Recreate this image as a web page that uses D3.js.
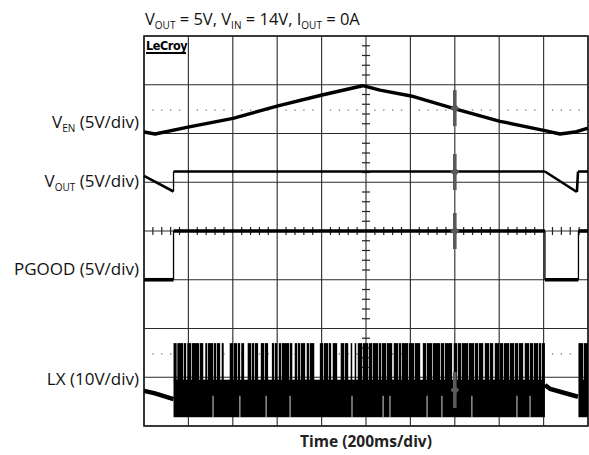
<!DOCTYPE html>
<html><head><meta charset="utf-8">
<script src="https://cdn.jsdelivr.net/npm/d3@7"></script>
<style>body{margin:0;background:#fff}</style></head>
<body>
<svg id="c" width="589" height="455"></svg>
<script>
// ---------- data (time in ms, 200 ms/div; amplitude in screen divisions, 0..8) ----------
const timeDomain = [0, 2000];
const divDomain = [0, 8];
const xGridTicks = [0,200,400,600,800,1000,1200,1400,1600,1800,2000];
const yGridTicks = [0,1,2,3,4,5,6,7,8];
const channelNames = ["EN", "OUT", "PGOOD", "LX"];

const venTrace = [[0,6.03],[50,5.99],[198,6.13],[401,6.31],[599,6.56],[802,6.79],[985,6.98],
  [1063,6.89],[1203,6.77],[1405,6.50],[1604,6.25],[1806,6.06],[1874,5.99],[1941,6.03],[2000,6.11]];
const voutTrace = [[0,5.13],[133,4.81],[133,5.22],[1806,5.22],[1950,4.80],[1955,5.22],[2000,5.22]];
const pgoodTrace = [[0,3.0],[133,3.0],[133,4.0],[1806,4.0],[1806,3.0],[1957,3.0],[1957,4.0],[2000,4.0]];
const lxIdleBefore = [[0,0.72],[50,0.67],[133,0.55]];
const lxIdleAfter = [[1806,0.84],[1830,0.76],[1955,0.60]];
const lxSwitching = [[133,1806],[1957,2000]];
const lxLevels = {spikeTop:1.70, bandTop:0.95, bandBottom:0.18};
const lxGaps = [[147,150],[177,180],[190,195],[212,215],[248,251],[267,276],[284,287],[311,314],
  [325,328],[343,350],[359,386],[401,404],[419,422],[433,438],[451,467],[482,485],[496,499],
  [514,526],[541,544],[559,576],[586,589],[600,607],[618,621],[654,657],[668,679],[690,693],
  [703,706],[726,733],[744,747],[767,792],[807,810],[829,832],[843,850],[870,886],[901,904],
  [920,931],[938,949],[956,963],[982,985],[1009,1012],[1027,1030],[1055,1058],[1068,1071],
  [1091,1094],[1118,1125],[1145,1148],[1158,1161],[1190,1193],[1217,1220],[1244,1256],
  [1271,1274],[1298,1301],[1334,1337],[1352,1355],[1388,1395],[1410,1413],[1428,1431],
  [1460,1463],[1487,1490],[1505,1508],[1528,1535],[1555,1558],[1573,1580],[1600,1603],
  [1618,1621],[1645,1648],[1667,1670],[1685,1688],[1708,1715],[1735,1738],[1753,1756],
  [1775,1778],[1789,1792],[1978,1981]];
const lxLowGaps = [311,432,550,658,937,1077,1108,1275,1342,1477,1680,1739];
const dottedLevels = [6.48, 1.48];
const cursorTime = 1400;
const cursorLevels = [6.52, 5.21, 4.0, 0.74];

// ---------- drawing ----------
const svg = d3.select("#c");
const x = d3.scaleLinear().domain(timeDomain).range([144, 588]);
const y = d3.scaleLinear().domain(divDomain).range([426, 36]);
const FONT = "'Open Sans', 'Noto Sans', sans-serif";

// dotted reference lines
const subStep = 40; // ms per minor subdivision (1/5 div)
dottedLevels.forEach(lv => {
  const pts = d3.range(timeDomain[0], timeDomain[1] + 1, subStep).filter(t => t % 200 !== 0);
  svg.append("g").selectAll("rect").data(pts).join("rect")
    .attr("x", d => x(d) - 0.6).attr("y", y(lv) - 0.6).attr("width", 1.3).attr("height", 1.3)
    .attr("fill", "#777");
});

// grid
const grid = svg.append("g");
grid.selectAll("line.v").data(xGridTicks).join("line")
  .attr("x1", d => x(d)).attr("x2", d => x(d)).attr("y1", y(8)).attr("y2", y(0))
  .attr("stroke", "#3a3a3a").attr("stroke-width", 1.2);
grid.selectAll("line.h").data(yGridTicks).join("line")
  .attr("y1", d => y(d)).attr("y2", d => y(d)).attr("x1", x(0)).attr("x2", x(2000))
  .attr("stroke", "#2a2a2a").attr("stroke-width", 1.2);
grid.append("rect").attr("x", x(0)).attr("y", y(8)).attr("width", x(2000) - x(0)).attr("height", y(0) - y(8))
  .attr("fill", "none").attr("stroke", "#222").attr("stroke-width", 1.6);

// minor ticks on centre axes
const cx = x(1000), cy = y(4);
const vMinor = d3.range(0, 8.01, 0.2).filter(v => Math.abs(v - Math.round(v)) > 0.01);
grid.selectAll("line.vm").data(vMinor).join("line")
  .attr("x1", cx - 4).attr("x2", cx + 4).attr("y1", d => y(d)).attr("y2", d => y(d))
  .attr("stroke", "#222").attr("stroke-width", 1.2);
const hMinor = d3.range(0, 2001, 40).filter(t => t % 200 !== 0);
grid.selectAll("line.hm").data(hMinor).join("line")
  .attr("y1", cy - 4).attr("y2", cy + 4).attr("x1", d => x(d)).attr("x2", d => x(d))
  .attr("stroke", "#222").attr("stroke-width", 1.2);

// traces
const line = d3.line().x(d => x(d[0])).y(d => y(d[1]));
const traces = svg.append("g");
traces.append("path").attr("d", line(venTrace)).attr("fill", "none")
  .attr("stroke", "#000").attr("stroke-width", 3.4).attr("stroke-linejoin", "round");

function stepTrace(data, thick) {
  for (let i = 0; i < data.length - 1; i++) {
    const a = data[i], b = data[i + 1];
    const vertical = a[0] === b[0];
    traces.append("line").attr("x1", x(a[0])).attr("y1", y(a[1])).attr("x2", x(b[0])).attr("y2", y(b[1]))
      .attr("stroke", "#000").attr("stroke-width", vertical ? 1.3 : thick).attr("stroke-linecap", "butt");
  }
}
stepTrace(voutTrace, 2.6);
stepTrace(pgoodTrace, 3.6);

// LX idle segments
[lxIdleBefore, lxIdleAfter].forEach(seg => {
  traces.append("path").attr("d", line(seg)).attr("fill", "none")
    .attr("stroke", "#000").attr("stroke-width", 4.5);
});
// LX switching band
lxSwitching.forEach(([t0, t1]) => {
  traces.append("rect").attr("x", x(t0)).attr("width", x(t1) - x(t0))
    .attr("y", y(lxLevels.bandTop)).attr("height", y(lxLevels.bandBottom) - y(lxLevels.bandTop))
    .attr("fill", "#000");
  const gaps = lxGaps.filter(g => g[1] > t0 && g[0] < t1).sort((a, b) => a[0] - b[0]);
  let cur = t0;
  const bars = [];
  gaps.forEach(g => { if (g[0] > cur) bars.push([cur, g[0]]); cur = Math.max(cur, g[1]); });
  if (cur < t1) bars.push([cur, t1]);
  traces.append("g").selectAll("rect").data(bars).join("rect")
    .attr("x", d => x(d[0])).attr("width", d => Math.max(0.8, x(d[1]) - x(d[0])))
    .attr("y", y(lxLevels.spikeTop)).attr("height", y(lxLevels.bandTop) - y(lxLevels.spikeTop) + 1)
    .attr("fill", "#000");
});
traces.append("g").selectAll("line").data(lxLowGaps).join("line")
  .attr("x1", d => x(d)).attr("x2", d => x(d)).attr("y1", y(0.62)).attr("y2", y(lxLevels.bandBottom))
  .attr("stroke", "#d8d8d8").attr("stroke-width", 1);

// cursor markers
const mk = svg.append("g").attr("fill", "#5a5a5a").attr("stroke", "none");
cursorLevels.forEach(lv => {
  const px = x(cursorTime), py = y(lv);
  mk.append("rect").attr("x", px - 1.8).attr("width", 3.6).attr("y", py - 18).attr("height", 36);
  mk.append("path").attr("d", `M${px - 4.5},${py} L${px},${py - 4.5} L${px + 4.5},${py} L${px},${py + 4.5}Z`);
});

// LeCroy logo
svg.append("text").attr("x", 146).attr("y", 49.5).text("LeCroy")
  .attr("font-family", "'DejaVu Sans Condensed', 'DejaVu Sans', sans-serif").attr("font-weight", "bold")
  .attr("font-size", 12.5).attr("letter-spacing", -0.4).attr("fill", "#000");
svg.append("line").attr("x1", 146).attr("x2", 186).attr("y1", 53).attr("y2", 53)
  .attr("stroke", "#000").attr("stroke-width", 1.8);

function sub(t, main, s, rest, subSize) {
  t.append("tspan").text(main);
  t.append("tspan").text(s).attr("font-size", subSize).attr("dy", 3.5);
  t.append("tspan").text(rest).attr("dy", -3.5);
}
// title
const title = svg.append("text").attr("x", 145).attr("y", 25).attr("font-family", FONT)
  .attr("font-size", 16.5).attr("fill", "#111");
sub(title, "V", "OUT", " = 5V, ", 10);
sub(title, "V", "IN", " = 14V, ", 10);
sub(title, "I", "OUT", "  = 0A", 10);

// channel labels
const labelY = [128, 187, 275, 385];
const lbl = svg.append("g").attr("font-family", FONT).attr("font-size", 17).attr("fill", "#111")
  .attr("text-anchor", "end");
const t0 = lbl.append("text").attr("x", 139).attr("y", labelY[0]);
sub(t0, "V", channelNames[0], " (5V/div)", 10);
const t1 = lbl.append("text").attr("x", 139).attr("y", labelY[1]);
sub(t1, "V", channelNames[1], " (5V/div)", 10);
lbl.append("text").attr("x", 139).attr("y", labelY[2]).text(channelNames[2] + " (5V/div)");
lbl.append("text").attr("x", 139).attr("y", labelY[3]).text(channelNames[3] + " (10V/div)");

// x axis title
svg.append("text").attr("x", x(1000)).attr("y", 447).attr("text-anchor", "middle")
  .attr("font-family", FONT).attr("font-weight", "bold").attr("font-size", 15.5).attr("fill", "#222")
  .text("Time (200ms/div)");
</script>
</body></html>
